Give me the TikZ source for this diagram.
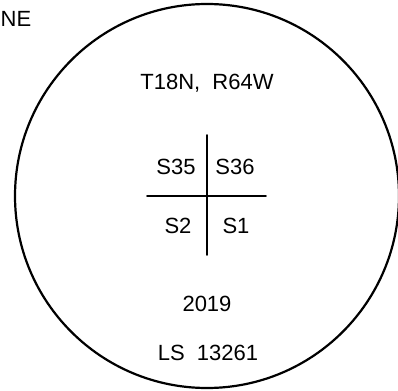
\documentclass[tikz,border=0pt]{standalone}
\usepackage{fontspec}
\setmainfont{Liberation Sans}
\usepackage{tikz}

\begin{document}
\begin{tikzpicture}[x=1pt, y=-1pt, line cap=round,
                lbl/.style={inner sep=0pt, font=\fontsize{22}{26}\selectfont}]
                \useasboundingbox (0,0) rectangle (398,390);
                \draw[line width=2.2pt] (207,196) circle (192);
                \node[lbl, anchor=west] (ne) at (0.5,19) {NE};
                \node[lbl] (twp) at (207,83) {T18N,\ \ R64W};
                \coordinate (crossN) at (207,135);
                \coordinate (crossS) at (207,255);
                \coordinate (crossW) at (147,196);
                \coordinate (crossE) at (266,196);
                \draw[line width=1.6pt] (crossN) -- (crossS);
                \draw[line width=1.6pt] (crossW) -- (crossE);
                \node[lbl] (s35) at (176,167) {S35};
                \node[lbl] (s36) at (235,167) {S36};
                \node[lbl] (s2) at (178,226) {S2};
                \node[lbl] (s1) at (236,226) {S1};
                \node[lbl] (year) at (207,304) {2019};
                \node[lbl] (ls) at (208,353) {LS\ \ 13261};
            \end{tikzpicture}
\end{document}
